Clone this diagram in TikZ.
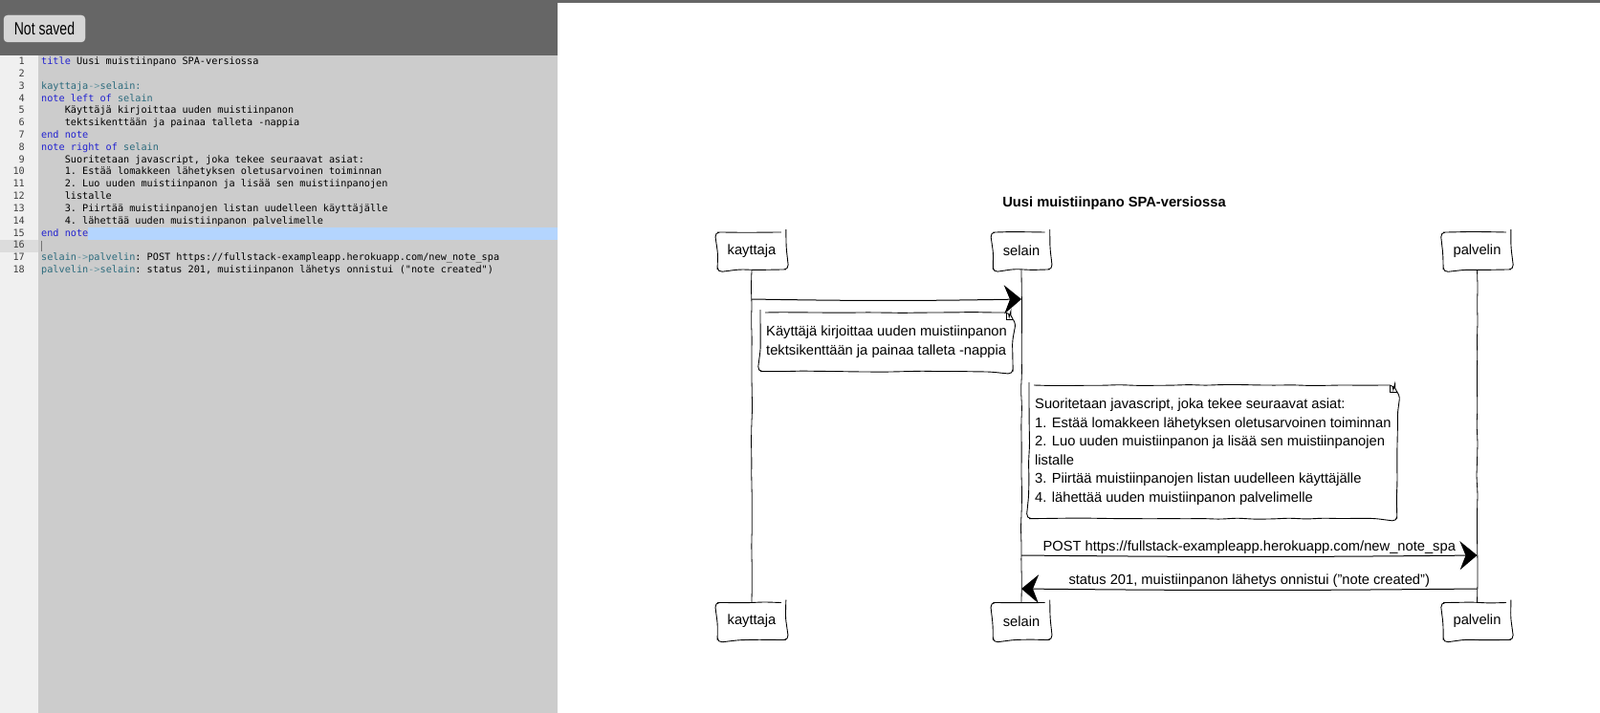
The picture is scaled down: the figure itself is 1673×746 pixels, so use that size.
\documentclass[tikz,border=0pt]{standalone}
\usepackage{fontspec}
\setmainfont{Liberation Sans}
\setmonofont{DejaVu Sans Mono}
\newfontfamily\btnfont[FakeStretch=0.76]{Liberation Sans}
\usetikzlibrary{arrows.meta,decorations.pathmorphing,positioning}

\definecolor{topgray}{HTML}{666666}
\definecolor{editorgray}{HTML}{CCCCCC}
\definecolor{guttergray}{HTML}{F0F0F0}
\definecolor{activegutter}{HTML}{DCDCDC}
\definecolor{selblue}{HTML}{B4D5FE}
\definecolor{btngray}{HTML}{D6D6D6}
\definecolor{kwblue}{HTML}{2222D0}
\definecolor{actorteal}{HTML}{2C6B7D}
\definecolor{arrowteal}{HTML}{6C98A3}

\newcommand{\kw}[1]{\textcolor{kwblue}{#1}}
\newcommand{\actor}[1]{\textcolor{actorteal}{#1}}
\newcommand{\arr}{\textcolor{arrowteal}{->}}
\newcommand{\ind}{\phantom{xxxx}}

\begin{document}
\begin{tikzpicture}[x=1pt,y=-1pt]
            \tikzstyle{codeline}=[anchor=west, inner sep=0pt, text height=7.6pt, text depth=2.4pt, font=\ttfamily\fontsize{10.2}{12}\selectfont, text=black]
            \tikzstyle{lineno}=[anchor=east, inner sep=0pt, text height=7.6pt, text depth=2.4pt, font=\ttfamily\fontsize{10.2}{12}\selectfont, text=black!75]
            \tikzstyle{btn}=[fill=btngray, draw=black!15, rounded corners=4pt, minimum width=85pt, minimum height=28pt, font=\btnfont\fontsize{18.5}{20}\selectfont]
            \tikzstyle{sketch}=[decorate, decoration={random steps, segment length=18pt, amplitude=0.6pt}, rounded corners=5pt]
            \tikzstyle{actorbox}=[draw, line width=0.9pt, sketch, fill=white, font=\fontsize{14.7}{17}\selectfont, inner xsep=10.5pt, minimum height=39pt]
            \tikzstyle{notetext}=[anchor=north west, align=left, inner xsep=6pt, inner ysep=14pt, font=\fontsize{14.7}{19.5}\selectfont]
            \tikzstyle{lifeline}=[line width=0.8pt, sketch]
            \tikzstyle{message}=[line width=1pt, -{Stealth[length=18pt,width=30pt,inset=6pt]}]
            \tikzstyle{msglabel}=[pos=0.5, anchor=south, inner sep=2pt, font=\fontsize{14.7}{17}\selectfont]
            \useasboundingbox (0,0) rectangle (1673,746);
            % editor panel
            \fill[topgray] (0,0) rectangle (583,58);
            \fill[topgray] (583,0) rectangle (1673,3);
            \fill[guttergray] (0,58) rectangle (40,746);
            \fill[editorgray] (40,58) rectangle (583,746);
            \fill[selblue] (92,238.1) rectangle (583,250.9);
            \fill[activegutter] (0,250.9) rectangle (40,263.7);
            \node[btn] (saved) at (46.5,30) {Not saved};
            \foreach \n in {1,...,18}
                \node[lineno] (n\n) at (26,{65+(\n-1)*12.82}) {\n};
            \node[codeline] (l1) at (43,65) {\kw{title} Uusi muistiinpano SPA-versiossa};
            \node[codeline] (l3) at (43,90.6) {\actor{kayttaja}\arr\actor{selain:}};
            \node[codeline] (l4) at (43,103.5) {\kw{note left of} \actor{selain}};
            \node[codeline] (l5) at (43,116.3) {\ind Käyttäjä kirjoittaa uuden muistiinpanon};
            \node[codeline] (l6) at (43,129.1) {\ind tektsikenttään ja painaa talleta -nappia};
            \node[codeline] (l7) at (43,141.9) {\kw{end note}};
            \node[codeline] (l8) at (43,154.7) {\kw{note right of} \actor{selain}};
            \node[codeline] (l9) at (43,167.6) {\ind Suoritetaan javascript, joka tekee seuraavat asiat:};
            \node[codeline] (l10) at (43,180.4) {\ind 1. Estää lomakkeen lähetyksen oletusarvoinen toiminnan};
            \node[codeline] (l11) at (43,193.2) {\ind 2. Luo uuden muistiinpanon ja lisää sen muistiinpanojen};
            \node[codeline] (l12) at (43,206.0) {\ind listalle};
            \node[codeline] (l13) at (43,218.8) {\ind 3. Piirtää muistiinpanojen listan uudelleen käyttäjälle};
            \node[codeline] (l14) at (43,231.7) {\ind 4. lähettää uuden muistiinpanon palvelimelle};
            \node[codeline] (l15) at (43,244.5) {\kw{end note}};
            \draw[black!55, line width=1pt] (43.5,251.5) -- (43.5,263);
            \node[codeline] (l17) at (43,270.1) {\actor{selain}\arr\actor{palvelin}: POST https://fullstack-exampleapp.herokuapp.com/new\_note\_spa};
            \node[codeline] (l18) at (43,282.9) {\actor{palvelin}\arr\actor{selain}: status 201, muistiinpanon lähetys onnistui ("note created")};
            % sequence diagram
            \node[font=\bfseries\fontsize{14.7}{17}\selectfont] (title) at (1165,213) {Uusi muistiinpano SPA-versiossa};
            \node[actorbox] (kayttaja) at (786,262.5) {kayttaja};
            \node[actorbox] (selain) at (1068,262.5) {selain};
            \node[actorbox] (palvelin) at (1544.5,262.5) {palvelin};
            \node[actorbox] (kayttajab) at (786,650) {kayttaja};
            \node[actorbox] (selainb) at (1068,650) {selain};
            \node[actorbox] (palvelinb) at (1544.5,650) {palvelin};
            \draw[lifeline] (kayttaja) -- (kayttajab);
            \draw[lifeline] (selain) -- (selainb);
            \draw[lifeline] (palvelin) -- (palvelinb);
            \node[notetext] (note1) at (795,327) {Käyttäjä kirjoittaa uuden muistiinpanon\\tektsikenttään ja painaa talleta -nappia};
            \node[notetext] (note2) at (1076,403) {Suoritetaan javascript, joka tekee seuraavat asiat:\\1. Estää lomakkeen lähetyksen oletusarvoinen toiminnan\\2. Luo uuden muistiinpanon ja lisää sen muistiinpanojen\\listalle\\3. Piirtää muistiinpanojen listan uudelleen käyttäjälle\\4. lähettää uuden muistiinpanon palvelimelle};
            \foreach \n in {note1,note2} {
                \draw[sketch, line width=0.9pt] (\n.north west) -- ([xshift=-7pt]\n.north east) -- ([yshift=-7pt]\n.north east) -- (\n.south east) -- (\n.south west) -- cycle;
                \draw[line width=0.6pt] ([xshift=-7pt]\n.north east) -- ([xshift=-7pt,yshift=-7pt]\n.north east) -- ([yshift=-7pt]\n.north east);
            }
            \coordinate (m1a) at (kayttaja |- 0,313);
            \coordinate (m1b) at (selain |- 0,313);
            \coordinate (m2a) at (selain |- 0,581);
            \coordinate (m2b) at (palvelin |- 0,581);
            \coordinate (m3a) at (palvelin |- 0,616);
            \coordinate (m3b) at (selain |- 0,616);
            \path [message] (m1a) edge[bend right=1] (m1b);
            \path [message] (m2a) edge[bend right=0.6] node[msglabel] {POST https://fullstack-exampleapp.herokuapp.com/new\_note\_spa} (m2b);
            \path [message] (m3a) edge[bend left=0.6] node[msglabel] {status 201, muistiinpanon lähetys onnistui ("note created")} (m3b);
        \end{tikzpicture}
\end{document}
